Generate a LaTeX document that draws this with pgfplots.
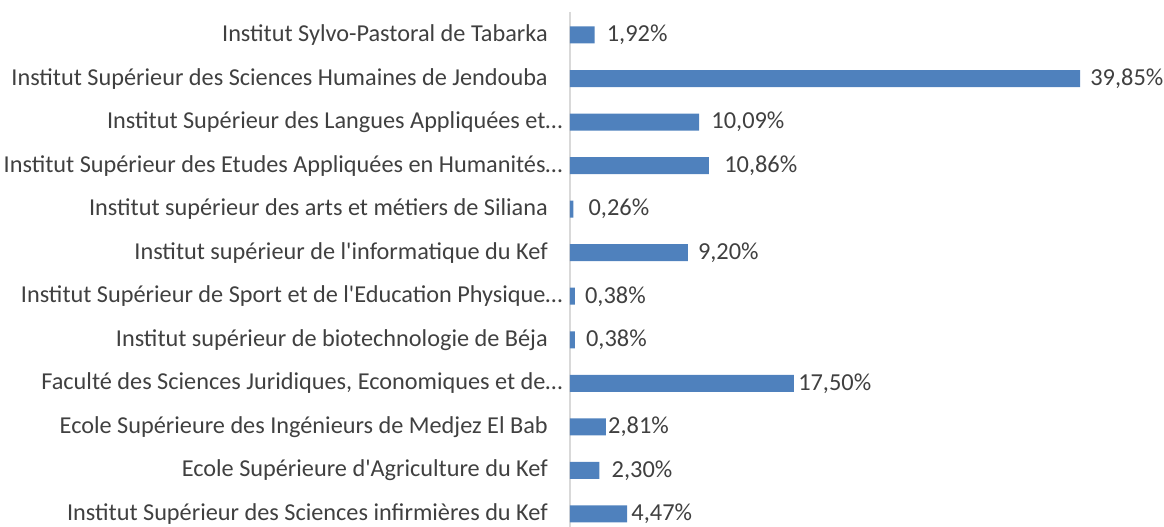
\documentclass[border=0pt]{standalone}
\usepackage{fontspec}
\setmainfont{Carlito}[Ligatures=TeXOff]
\usepackage{pgfplots}
\usepackage{pgfplotstable}
\pgfplotsset{compat=1.18}
\definecolor{barblue}{HTML}{4F81BD}
\definecolor{txt}{HTML}{404040}
\definecolor{axgray}{HTML}{D9D9D9}
\newcommand{\ellip}{…\kern-11pt\null}
\pgfplotstableread{
i v lbl dx
0 1.92 1,92 12
1 39.85 39,85 10
2 10.09 10,09 12
3 10.86 10,86 15
4 0.26 0,26 15
5 9.20 9,20 10
6 0.38 0,38 10
7 0.38 0,38 11
8 17.50 17,50 4
9 2.81 2,81 2
10 2.30 2,30 12
11 4.47 4,47 4
}\data
\begin{document}
\begin{tikzpicture}
\begin{axis}[
  at={(0,0)}, anchor=south west,
  scale only axis, width=432pt, height=386.25pt,
  xmin=0, xmax=45, ymin=-0.528, ymax=11.3, y dir=reverse,
  xbar, bar width=12.75pt, bar shift=0pt,
  axis line style={draw=none},
  xtick=\empty, ytick={0,...,11}, major tick length=0pt,
  yticklabels={Institut Sylvo-Pastoral de Tabarka, Institut Supérieur des Sciences Humaines de Jendouba, Institut Supérieur des Langues Appliquées et\ellip, Institut Supérieur des Etudes Appliquées en Humanités\ellip, Institut supérieur des arts et métiers de Siliana, Institut supérieur de l'informatique du Kef, Institut Supérieur de Sport et de l'Education Physique\ellip, Institut supérieur de biotechnologie de Béja, {Faculté des Sciences Juridiques, Economiques et de\ellip}, Ecole Supérieure des Ingénieurs de Medjez El Bab, Ecole Supérieure d'Agriculture du Kef, Institut Supérieur des Sciences infirmières du Kef},
  yticklabel style={anchor=east, inner sep=0pt, xshift=-16.5pt, font=\fontsize{18.2}{20}\selectfont, text=txt},
  clip=false,
  point meta=explicit symbolic,
  visualization depends on={\thisrow{dx}\as\dx},
  nodes near coords={\pgfplotspointmeta\%},
  nodes near coords style={anchor=west, inner sep=0pt, xshift=0.75*\dx pt, font=\fontsize{18.3}{20}\selectfont, text=txt},
]
\draw[axgray, line width=1.5pt] (axis cs:0,-0.528) -- (axis cs:0,11.3);
\addplot[fill=barblue, draw=none] table[x=v, y=i, meta=lbl] {\data};
\end{axis}
\pgfresetboundingbox
\useasboundingbox (-427.5pt,0) rectangle (445.5pt,395.25pt);
\end{tikzpicture}
\end{document}
